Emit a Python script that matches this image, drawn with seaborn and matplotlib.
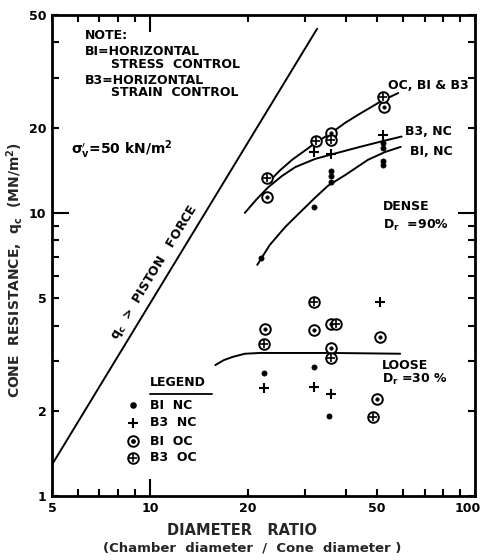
import numpy as np
import pandas as pd
import matplotlib
matplotlib.use("Agg")
import matplotlib.pyplot as plt
import matplotlib.transforms as mtransforms
import seaborn as sns

# 読み取りデータ (diameter ratio, q_c [MN/m2])
# Dense, Dr = 90%
dense_b1nc_x = [22, 32, 36, 36, 36, 52, 52, 52, 52]
dense_b1nc_y = [6.9, 10.5, 14.0, 13.45, 12.9, 17.7, 17.0, 15.2, 14.7]
dense_b3nc_x = [32, 36, 52]
dense_b3nc_y = [16.4, 16.2, 18.9]
dense_b1oc_x = [23, 36, 52.5]
dense_b1oc_y = [11.4, 19.2, 23.7]
dense_b3oc_x = [23, 32.5, 36, 52]
dense_b3oc_y = [13.3, 17.9, 18.1, 25.7]

# Loose, Dr = 30%
loose_b1nc_x = [22.5, 32, 35.5]
loose_b1nc_y = [2.72, 2.86, 1.92]
loose_b3nc_x = [22.5, 32, 36, 51]
loose_b3nc_y = [2.41, 2.43, 2.29, 4.85]
loose_b1oc_x = [22.6, 32, 36, 36, 51, 50]
loose_b1oc_y = [3.89, 3.87, 4.05, 3.33, 3.65, 2.20]
loose_b3oc_x = [32, 37.5, 22.5, 36, 48.6]
loose_b3oc_y = [4.85, 4.05, 3.44, 3.07, 1.90]

# 手描きの曲線
oc_curve_x = [23.1, 25.1, 27.4, 30.0, 32.6, 35.8, 39.9, 44.3, 51.8, 58.1]
oc_curve_y = [12.8, 14.1, 15.4, 16.6, 17.8, 19.0, 20.8, 22.4, 24.9, 26.5]
b3nc_curve_x = [19.6, 21.2, 23.1, 25.5, 28.0, 32.2, 37.1, 44.3, 51.8, 59.5]
b3nc_curve_y = [10.0, 11.1, 12.3, 13.5, 14.5, 15.5, 16.2, 17.1, 17.9, 18.6]
b1nc_curve_x = [21.4, 23.4, 26.1, 29.0, 32.2, 35.3, 39.9, 46.9, 52.9, 59.1]
b1nc_curve_y = [6.55, 7.71, 8.92, 10.05, 11.3, 12.46, 13.6, 15.4, 16.4, 17.1]
loose_curve_x = [15.9, 16.9, 18.0, 19.6, 21.8, 36.5, 58.9]
loose_curve_y = [2.90, 3.02, 3.10, 3.18, 3.20, 3.20, 3.18]
piston_x = [5, 32.7]
piston_y = [1.29, 44.7]

x_ticks_minor = [5, 6, 7, 8, 9, 20, 30, 40, 50, 60, 70, 80, 90, 100]
x_minor_labels = ['5', '', '', '', '', '20', '', '', '50', '', '', '', '', '100']
y_ticks_minor = [1, 2, 3, 4, 5, 6, 7, 8, 9, 20, 30, 40, 50]
y_minor_labels = ['1', '2', '', '', '5', '', '', '', '', '20', '', '', '50']

sns.set_style("ticks")
plt.rcParams['font.family'] = ['DejaVu Sans']
plt.rcParams['font.weight'] = 'bold'
plt.rcParams['mathtext.default'] = 'bf'

K = 'black'
S_CIRC = 58


def draw_points(ax, x, y, kind):
    #マーカーの描画 (kind: b1nc, b3nc, b1oc, b3oc)
    if kind == 'b1nc':
        sns.scatterplot(x=x, y=y, ax=ax, marker='o', s=14, color=K, edgecolor=K, linewidth=0.5, zorder=4)
    elif kind == 'b3nc':
        sns.scatterplot(x=x, y=y, ax=ax, marker='+', s=55, color=K, linewidth=1.5, zorder=4)
    elif kind == 'b1oc':
        sns.scatterplot(x=x, y=y, ax=ax, marker='o', s=S_CIRC, facecolor='white', edgecolor=K, linewidth=1.4, zorder=4)
        sns.scatterplot(x=x, y=y, ax=ax, marker='o', s=6, color=K, edgecolor=K, linewidth=0.5, zorder=5)
    else:
        sns.scatterplot(x=x, y=y, ax=ax, marker='o', s=S_CIRC, facecolor='white', edgecolor=K, linewidth=1.4, zorder=4)
        sns.scatterplot(x=x, y=y, ax=ax, marker='+', s=36, color=K, linewidth=1.2, zorder=5)


fig = plt.figure(figsize=(4.85, 5.6), dpi=100)
ax = fig.add_axes([0.1072, 0.1143, 0.872, 0.859])
ax.set_xscale('log')
ax.set_yscale('log')

#曲線
for cx, cy in [(oc_curve_x, oc_curve_y), (b3nc_curve_x, b3nc_curve_y),
               (b1nc_curve_x, b1nc_curve_y), (loose_curve_x, loose_curve_y),
               (piston_x, piston_y)]:
    sns.lineplot(x=cx, y=cy, ax=ax, sort=False, estimator=None, color=K, linewidth=1.4, zorder=3)

#点
draw_points(ax, dense_b1nc_x, dense_b1nc_y, 'b1nc')
draw_points(ax, dense_b3nc_x, dense_b3nc_y, 'b3nc')
draw_points(ax, dense_b1oc_x, dense_b1oc_y, 'b1oc')
draw_points(ax, dense_b3oc_x, dense_b3oc_y, 'b3oc')
draw_points(ax, loose_b1nc_x, loose_b1nc_y, 'b1nc')
draw_points(ax, loose_b3nc_x, loose_b3nc_y, 'b3nc')
draw_points(ax, loose_b1oc_x, loose_b1oc_y, 'b1oc')
draw_points(ax, loose_b3oc_x, loose_b3oc_y, 'b3oc')

ax.set_xlim(5, 100)
ax.set_ylim(1, 50)

#軸目盛
ax.set_xticks([10])
ax.set_xticklabels(['10'])
ax.set_xticks(x_ticks_minor, minor=True)
ax.set_xticklabels(x_minor_labels, minor=True)
ax.set_yticks([10])
ax.set_yticklabels(['10'])
ax.set_yticks(y_ticks_minor, minor=True)
ax.set_yticklabels(y_minor_labels, minor=True)
ax.tick_params(which='both', direction='in', top=True, right=True, width=1.5,
               labelsize=9, colors=K, pad=4)
ax.tick_params(which='major', length=12)
ax.tick_params(which='minor', length=5)
for sp in ax.spines.values():
    sp.set_linewidth(2)
    sp.set_color(K)

# "100" が右端で切れないように少し左へ
lab100 = ax.get_xticklabels(minor=True)[-1]
lab100.set_transform(lab100.get_transform() + mtransforms.ScaledTranslation(-5 / 72, 0, fig.dpi_scale_trans))

ax.set_xlabel('')
ax.set_ylabel(r'CONE  RESISTANCE,  $q_c$  (MN/m$^2$)', fontsize=10, fontweight='bold')
ax.yaxis.set_label_coords(-0.062, 0.47)

fig.text(0.50, 0.052, 'DIAMETER   RATIO', ha='center', va='center', fontsize=10.5, fontweight='bold')
fig.text(0.52, 0.021, '(Chamber  diameter  /  Cone  diameter )', ha='center', va='center',
         fontsize=9.5, fontweight='bold')

#注記
tx = dict(transform=ax.transAxes, ha='left', va='center', fontsize=9, fontweight='bold', color=K)
ax.text(0.078, 0.958, 'NOTE:', **tx)
ax.text(0.078, 0.923, 'BI=HORIZONTAL', **tx)
ax.text(0.139, 0.898, 'STRESS  CONTROL', **tx)
ax.text(0.078, 0.863, 'B3=HORIZONTAL', **tx)
ax.text(0.139, 0.838, 'STRAIN  CONTROL', **tx)
ax.text(0.045, 0.719, r"$\sigma_v^{\prime}$=50 kN/m$^2$", transform=ax.transAxes, ha='left', va='center',
        fontsize=10, color=K)
ax.text(0.794, 0.854, 'OC, BI & B3', **tx)
ax.text(0.835, 0.757, 'B3, NC', **tx)
ax.text(0.846, 0.717, 'BI, NC', **tx)
ax.text(0.783, 0.601, 'DENSE', **tx)
ax.text(0.783, 0.563, r'D$_r$  =90%', **tx)
ax.text(0.780, 0.272, 'LOOSE', **tx)
ax.text(0.780, 0.243, r'D$_r$ =30 %', **tx)
ax.text(0.243, 0.464, r'$q_c$  >  PISTON   FORCE', transform=ax.transAxes, ha='center', va='center',
        rotation=58.7, fontsize=9, fontweight='bold', color=K)

#凡例
ax.text(0.232, 0.235, 'LEGEND', **tx)
ax.plot([0.232, 0.378], [0.213, 0.213], transform=ax.transAxes, color=K, linewidth=1.3)
leg_y = [0.189, 0.152, 0.114, 0.079]
leg_txt = ['BI  NC', 'B3  NC', 'BI  OC', 'B3  OC']
for yy, t, kind in zip(leg_y, leg_txt, ['b1nc', 'b3nc', 'b1oc', 'b3oc']):
    ax.text(0.232, yy, t, **tx)
    if kind == 'b1nc':
        ax.scatter([0.191], [yy], transform=ax.transAxes, marker='o', s=14, color=K, zorder=5)
    elif kind == 'b3nc':
        ax.scatter([0.191], [yy], transform=ax.transAxes, marker='+', s=55, color=K, linewidth=1.5, zorder=5)
    elif kind == 'b1oc':
        ax.scatter([0.191], [yy], transform=ax.transAxes, marker='o', s=S_CIRC, facecolor='white', edgecolor=K, linewidth=1.4, zorder=5)
        ax.scatter([0.191], [yy], transform=ax.transAxes, marker='o', s=6, color=K, zorder=6)
    else:
        ax.scatter([0.191], [yy], transform=ax.transAxes, marker='o', s=S_CIRC, facecolor='white', edgecolor=K, linewidth=1.4, zorder=5)
        ax.scatter([0.191], [yy], transform=ax.transAxes, marker='+', s=36, color=K, linewidth=1.2, zorder=6)

fig.savefig('out.png', dpi=100)
